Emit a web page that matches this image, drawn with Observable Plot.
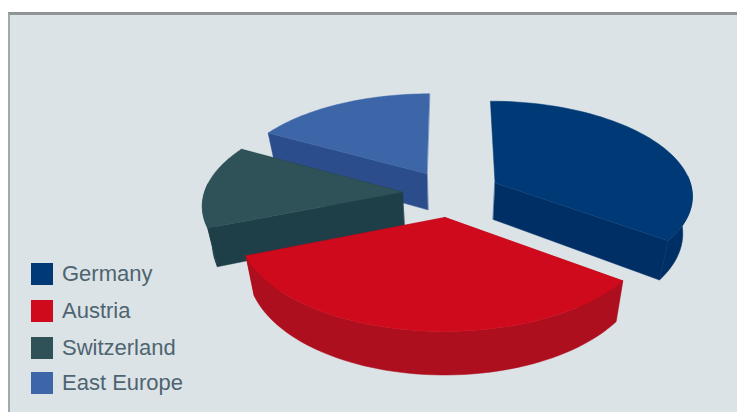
<!DOCTYPE html>
<html>
<head>
<meta charset="utf-8">
<script src="https://cdn.jsdelivr.net/npm/d3@7"></script>
<script src="https://cdn.jsdelivr.net/npm/@observablehq/plot@0.6"></script>
<style>
  html, body { margin: 0; padding: 0; background: #fff; }
  #frame { position: relative; width: 737px; height: 412px; overflow: hidden; }
  #panel { position: absolute; left: 8px; top: 12px; right: 0; bottom: 0; background: #dbe3e6;
           border-left: 2px solid #a3a8ab; border-top: 3px solid #8f9496; box-sizing: border-box; }
  #chart { position: absolute; left: 0; top: 0; }
  .key { position: absolute; left: 31px; display: flex; align-items: center; height: 23px;
         font: 22px "Liberation Sans", Arial, sans-serif; color: #4e6470; white-space: nowrap; }
  .key i { display: block; width: 22px; height: 22px; margin-right: 9px; }
</style>
</head>
<body>
<div id="frame"><div id="panel"></div><div id="chart"></div></div>
<script>
// Revenue share by region
const regions = ["Germany", "Austria", "Switzerland", "East Europe"];
const shares = [35, 34, 14, 17];
const topColors = ["#003a76", "#cf0a1c", "#2f5258", "#3d66a8"];
const sideColors = ["#002f66", "#ae0f1e", "#1e3e48", "#2c4d8c"];
const legendRows = [262, 299, 336, 371];

// Perspective view of the exploded pie
const view = {cx: 451, cy: 193, rx: 198, ry: 94, persp: 0.12, explode: 0.25, depth: 37, taper: 0.04};
const paintOrder = ["East Europe", "Germany", "Switzerland", "Austria"];

const project = (u, v) => {
  const s = 1 / (1 - view.persp * v);
  return {x: view.cx + view.rx * u * s, y: view.cy + view.ry * v * s, s};
};
const lower = (p) => ({
  x: view.cx + (p.x - view.cx) * (1 - view.taper),
  y: p.y + view.depth * p.s
});

const total = d3.sum(shares);
let cursor = 0;
const slices = regions.map((region, i) => {
  const a0 = cursor;
  const a1 = cursor + (shares[i] / total) * 2 * Math.PI;
  cursor = a1;
  return {region, i, a0, a1};
});

// Each face is a closed outline; paint order follows the drawing order of the rows
const faces = [];
let faceId = 0;
const pushFace = (points, fill) => {
  const id = faceId++;
  for (const p of points) faces.push({x: p.x, y: p.y, id, fill});
};
for (const name of paintOrder) {
  const {i, a0, a1} = slices[regions.indexOf(name)];
  const mid = (a0 + a1) / 2;
  const ou = view.explode * Math.sin(mid);
  const ov = -view.explode * Math.cos(mid);
  const apex = project(ou, ov);
  const angles = d3.range(0, 61).map((k) => a0 + ((a1 - a0) * k) / 60);
  const rimAt = (t) => project(ou + Math.sin(t), ov - Math.cos(t));
  const rim = angles.map(rimAt);
  // Only the part of the rim turned towards the viewer gets an outer wall
  const wall = angles.filter((t) => -Math.cos(t) > -0.1).map(rimAt);
  const first = rim[0], last = rim[rim.length - 1];
  // Cut faces running straight back from the apex stay out of sight
  if (Math.abs(Math.sin(a0)) > 0.3) pushFace([apex, first, lower(first), lower(apex)], sideColors[i]);
  if (Math.abs(Math.sin(a1)) > 0.3) pushFace([apex, last, lower(last), lower(apex)], sideColors[i]);
  pushFace([...wall, ...wall.map(lower).reverse()], sideColors[i]);
  pushFace([apex, ...rim], topColors[i]);
}

const plot = Plot.plot({
  width: 737,
  height: 412,
  margin: 0,
  style: {background: "transparent"},
  x: {domain: [0, 737], range: [0, 737], axis: null},
  y: {domain: [0, 412], range: [0, 412], axis: null},
  color: {type: "identity"},
  marks: [
    Plot.line(faces, {x: "x", y: "y", z: "id", fill: "fill", stroke: "fill", strokeWidth: 0.5, curve: "linear-closed"})
  ]
});
document.getElementById("chart").append(plot);

const frame = document.getElementById("frame");
regions.forEach((region, i) => {
  const row = document.createElement("div");
  row.className = "key";
  row.style.top = legendRows[i] + "px";
  const swatch = document.createElement("i");
  swatch.style.background = topColors[i];
  row.append(swatch, region);
  frame.append(row);
});
</script>
</body>
</html>
